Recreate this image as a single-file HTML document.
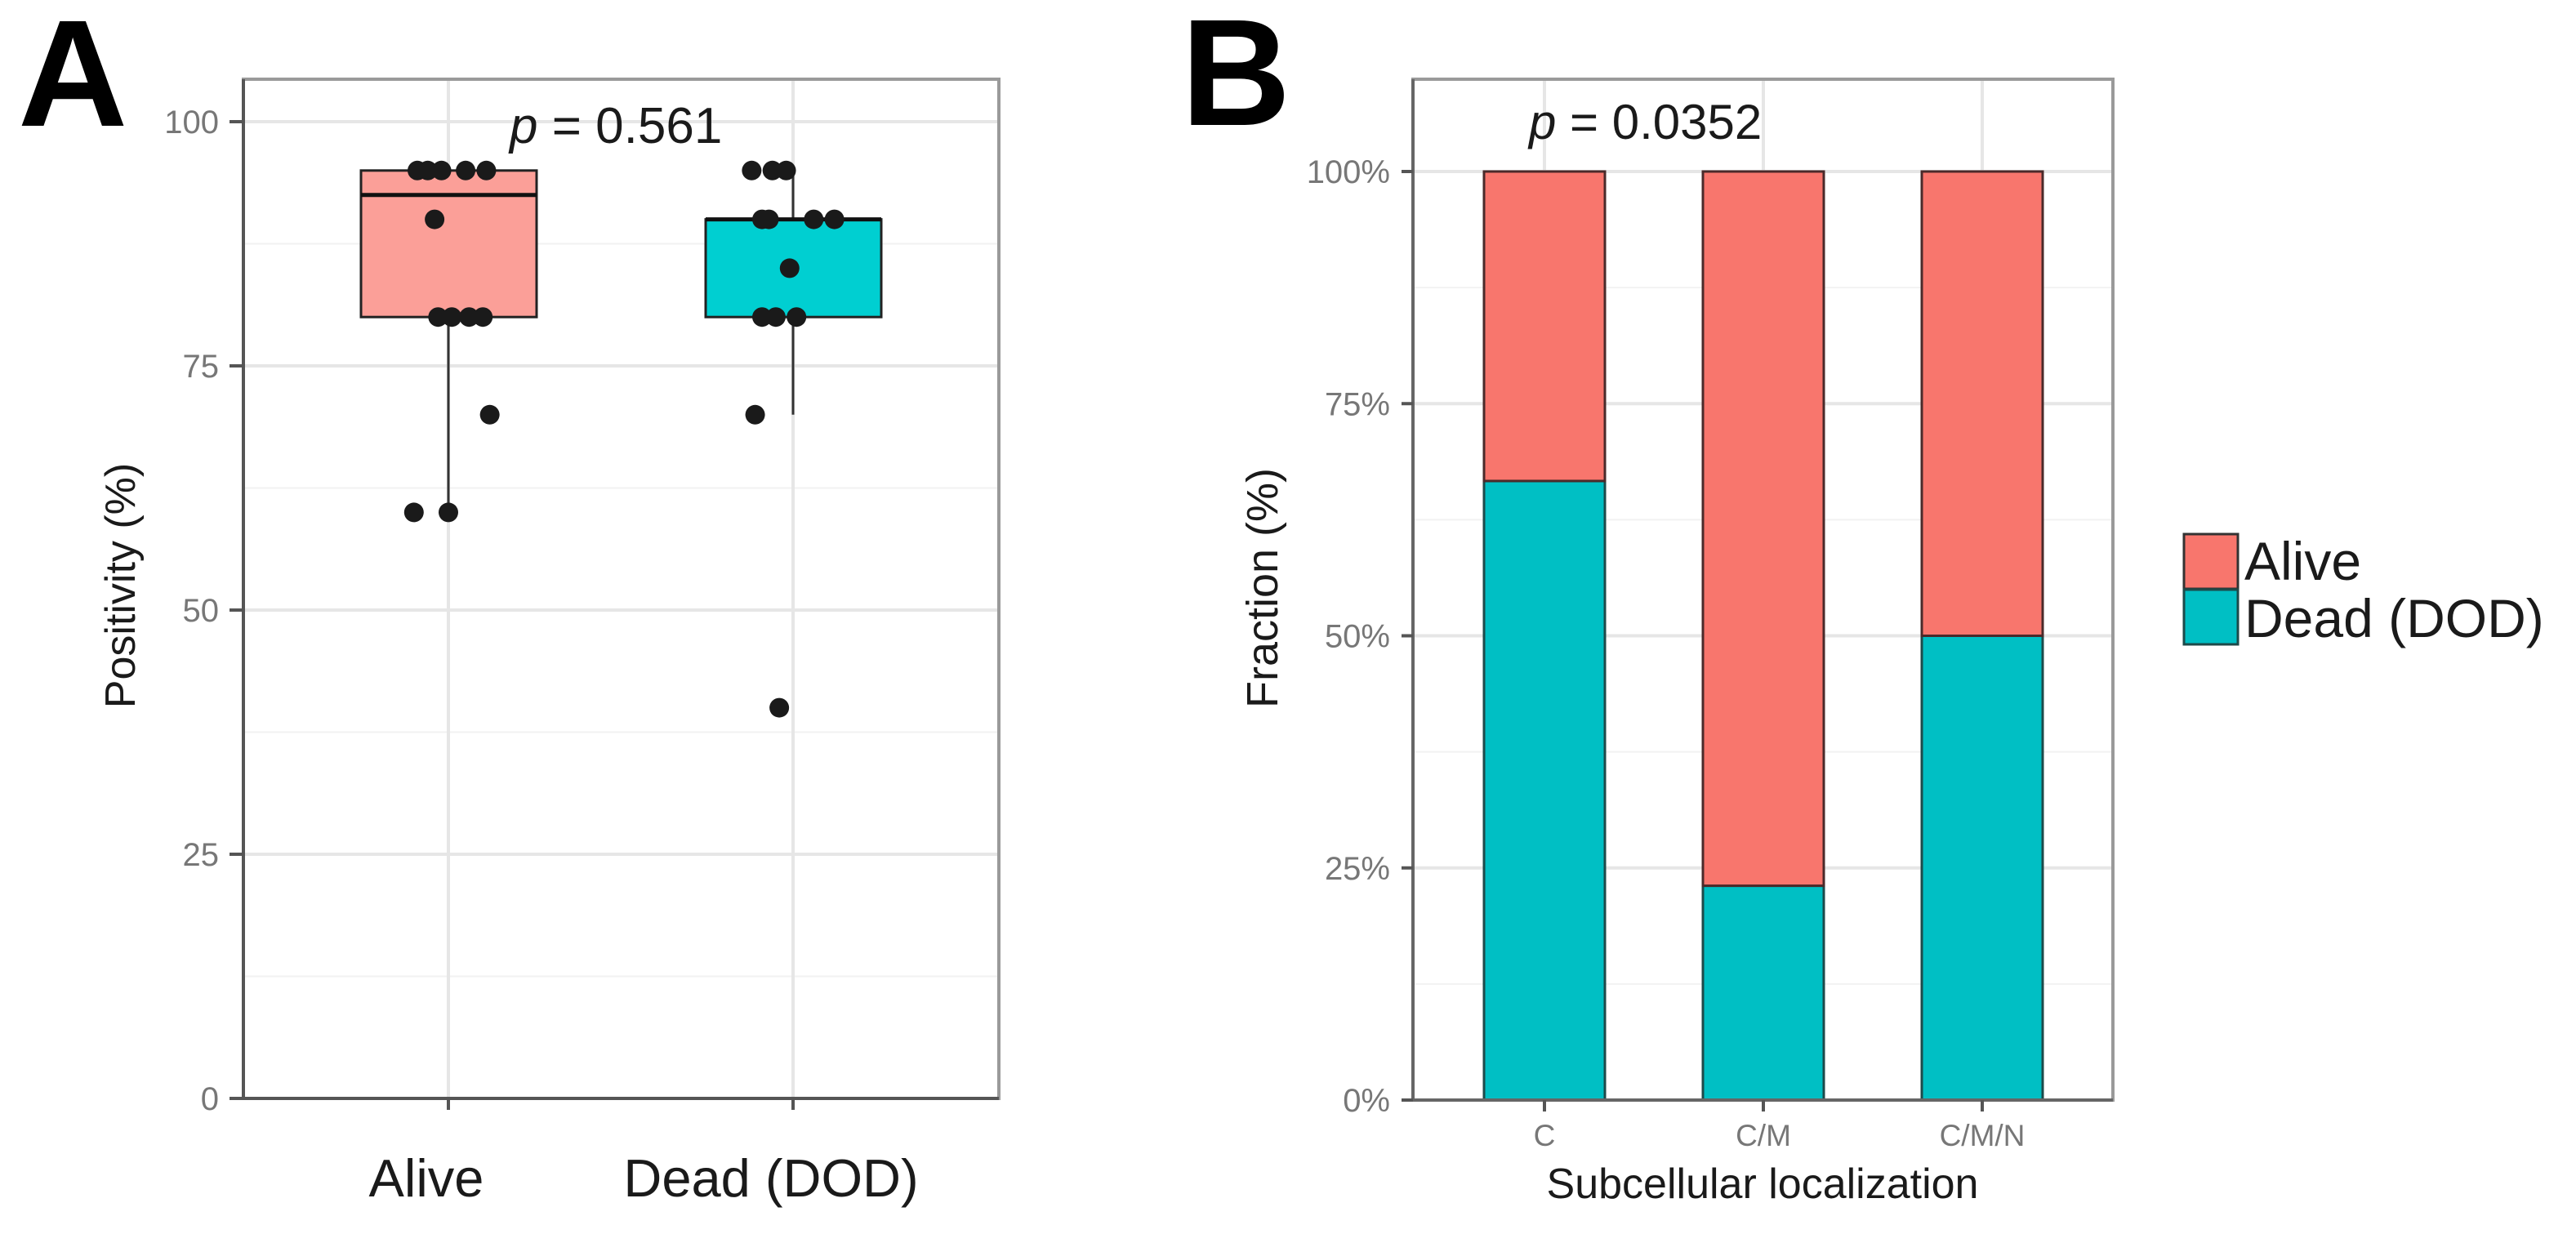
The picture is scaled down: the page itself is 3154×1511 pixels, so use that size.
<!DOCTYPE html>
<html><head><meta charset="utf-8"><style>
html,body{margin:0;padding:0;background:#fff;}
svg{display:block;font-family:"Liberation Sans",Arial,sans-serif;}
</style></head><body>
<svg id="fig" width="3154" height="1511" viewBox="0 0 3154 1511" xmlns="http://www.w3.org/2000/svg">
<rect width="3154" height="1511" fill="#fff"/>
<g id="pa"></g>
<g id="pb"></g>
</svg>
<script>
// ---- Panel A data ----
const aCategories = ["Alive", "Dead (DOD)"];
const aQ1 = [80, 80];
const aMedian = [92.5, 90];
const aQ3 = [95, 90];
const aWhiskerLow = [60, 70];
const aWhiskerHigh = [95, 95];
const aPointGroup = [0,0,0,0,0,0,0,0,0,0,0,0, 1,1,1,1,1,1,1,1,1,1,1,1];
const aPointValue = [95,95,95,95,95,90,80,80,80,80,70,60,60, 95,95,95,90,90,90,90,85,80,80,80,70,40].slice(0);
const aPointsAlive = [95,95,95,95,95,90,80,80,80,80,70,60,60];
const aJitterAlive = [-0.09,-0.06,-0.02,0.05,0.11,-0.04,-0.03,0.01,0.06,0.1,0.12,-0.1,0];
const aPointsDead = [95,95,95,90,90,90,90,85,80,80,80,70,40];
const aJitterDead = [-0.12,-0.06,-0.02,-0.09,-0.07,0.06,0.12,-0.01,-0.09,-0.05,0.01,-0.11,-0.04];
const aYTicks = [0,25,50,75,100];
const aPText = "0.561";
// ---- Panel B data ----
const bCategories = ["C","C/M","C/M/N"];
const bDead = [0.6667, 0.2308, 0.5];
const bAlive = [0.3333, 0.7692, 0.5];
const bYTicks = [0,0.25,0.5,0.75,1];
const bYTickLabels = ["0%","25%","50%","75%","100%"];
const bPText = "0.0352";

const NS="http://www.w3.org/2000/svg";
function mk(parent,tag,attrs,text){const e=document.createElementNS(NS,tag);for(const k in attrs)e.setAttribute(k,attrs[k]);if(text!==undefined)e.textContent=text;parent.appendChild(e);return e;}

// ---------- Panel A ----------
(function(){
const g=document.getElementById('pa');
const L=298,R=1223,T=97,B=1345;
const y=v=>B-(v/100)*(B-149)*1; // 100 at 149
const catStep=422, x0=549;
const x=i=>x0+i*catStep;
// grid minor
for(let v=12.5;v<=100;v+=25){const l=mk(g,'line',{x1:L,x2:R,y1:y(v),y2:y(v),stroke:'#f2f2f2','stroke-width':2});}
aYTicks.forEach(v=>{const l=mk(g,'line',{x1:L,x2:R,y1:y(v),y2:y(v),stroke:'#e6e6e6','stroke-width':4});});
aCategories.forEach((c,i)=>{const l=mk(g,'line',{x1:x(i),x2:x(i),y1:T,y2:B,stroke:'#e6e6e6','stroke-width':4});});
// boxes
const fills=['#fb9f98','#00cfd1'];
aCategories.forEach((c,i)=>{
 const w=mk(g,'line',{x1:x(i),x2:x(i),y1:y(aWhiskerHigh[i]),y2:y(aQ3[i]),stroke:'#333','stroke-width':3});
 
 const w2=mk(g,'line',{x1:x(i),x2:x(i),y1:y(aQ1[i]),y2:y(aWhiskerLow[i]),stroke:'#333','stroke-width':3});
 
 const b=mk(g,'rect',{x:x(i)-107,y:y(aQ3[i]),width:215,height:y(aQ1[i])-y(aQ3[i]),fill:fills[i],stroke:'#222','stroke-width':3});
 
 const m=mk(g,'line',{x1:x(i)-107,x2:x(i)+108,y1:y(aMedian[i]),y2:y(aMedian[i]),stroke:'#111','stroke-width':5});
 
});
[[aPointsAlive,aJitterAlive,0],[aPointsDead,aJitterDead,1]].forEach(([vals,jit,i])=>{
 vals.forEach((v,k)=>{const p=mk(g,'circle',{cx:x(i)+jit[k]*catStep,cy:y(v),r:12,fill:'#1a1a1a'});
 });
});
// border
const br=mk(g,'rect',{x:L,y:T,width:R-L,height:B-T,fill:'none',stroke:'#9a9a9a','stroke-width':4});

const ax=mk(g,'path',{d:`M${L},${T} V${B} H${R}`,fill:'none',stroke:'#555','stroke-width':4});

aYTicks.forEach(v=>{
 const t=mk(g,'line',{x1:281,x2:L,y1:y(v),y2:y(v),stroke:'#555','stroke-width':4});
 
 const tl=mk(g,'text',{x:268,y:y(v)+14,'text-anchor':'end','font-size':40,fill:'#777'},String(v));
 
});
aCategories.forEach((c,i)=>{
 const t=mk(g,'line',{x1:x(i),x2:x(i),y1:B,y2:B+14,stroke:'#555','stroke-width':4});
 
 const tl=mk(g,'text',{x:x(i)-27,y:1465,'text-anchor':'middle','font-size':65,fill:'#1a1a1a'},c);
 
});
const yl=mk(g,'text',{x:0,y:0,transform:'translate(165,717) rotate(-90)','text-anchor':'middle','font-size':52,fill:'#1a1a1a'},'Positivity (%)');

const pt=mk(g,'text',{x:624,y:175,'font-size':62,fill:'#1a1a1a'});

mk(pt,'tspan',{'font-style':'italic'},'p');mk(pt,'tspan',{},' = '+aPText);
const lab=mk(g,'text',{x:22,y:154,'font-size':186,'font-weight':'bold',fill:'#000'},'A');

})();

// ---------- Panel B ----------
(function(){
const g=document.getElementById('pb');
const L=1730,R=2587,T=97,B=1347,Y100=210;
const y=v=>B-v*(B-Y100);
const step=268,x0=1891;
const x=i=>x0+i*step;
const bw=148;
for(let v=0.125;v<1.1;v+=0.25){const l=mk(g,'line',{x1:L,x2:R,y1:y(v),y2:y(v),stroke:'#f2f2f2','stroke-width':2});}
bYTicks.forEach(v=>{const l=mk(g,'line',{x1:L,x2:R,y1:y(v),y2:y(v),stroke:'#e6e6e6','stroke-width':4});});
bCategories.forEach((c,i)=>{const l=mk(g,'line',{x1:x(i),x2:x(i),y1:T,y2:B,stroke:'#e6e6e6','stroke-width':4});});
bCategories.forEach((c,i)=>{
 const d=mk(g,'rect',{x:x(i)-bw/2,y:y(bDead[i]),width:bw,height:y(0)-y(bDead[i]),fill:'#00bfc4',stroke:'#1d4a4a','stroke-width':3});
 
 const a=mk(g,'rect',{x:x(i)-bw/2,y:y(bDead[i]+bAlive[i]),width:bw,height:y(bDead[i])-y(bDead[i]+bAlive[i]),fill:'#f8766d',stroke:'#4a2a2a','stroke-width':3});
 
});
const br=mk(g,'rect',{x:L,y:T,width:R-L,height:B-T,fill:'none',stroke:'#9a9a9a','stroke-width':4});

const ax=mk(g,'path',{d:`M${L},${T} V${B} H${R}`,fill:'none',stroke:'#666','stroke-width':4});

bYTicks.forEach((v,k)=>{
 const t=mk(g,'line',{x1:1716,x2:L,y1:y(v),y2:y(v),stroke:'#555','stroke-width':4});
 
 const tl=mk(g,'text',{x:1702,y:y(v)+14,'text-anchor':'end','font-size':40,fill:'#777'},bYTickLabels[k]);
 
});
bCategories.forEach((c,i)=>{
 const t=mk(g,'line',{x1:x(i),x2:x(i),y1:B,y2:B+14,stroke:'#555','stroke-width':4});
 
 const tl=mk(g,'text',{x:x(i),y:1403,'text-anchor':'middle','font-size':37,fill:'#777'},c);
 
});
const xl=mk(g,'text',{x:2158,y:1467,'text-anchor':'middle','font-size':52,fill:'#1a1a1a'},'Subcellular localization');

const yl=mk(g,'text',{x:0,y:0,transform:'translate(1564,720) rotate(-90)','text-anchor':'middle','font-size':54,fill:'#1a1a1a'},'Fraction (%)');

const pt=mk(g,'text',{x:1872,y:170,'font-size':60,fill:'#1a1a1a'});

mk(pt,'tspan',{'font-style':'italic'},'p');mk(pt,'tspan',{},' = '+bPText);
const lab=mk(g,'text',{x:1446,y:153,'font-size':186,'font-weight':'bold',fill:'#000'},'B');

// legend
const lg=mk(g,'g',{});

const k1=mk(lg,'rect',{x:2674,y:654,width:66,height:67,fill:'#f8766d',stroke:'#333','stroke-width':3});

const k2=mk(lg,'rect',{x:2674,y:722,width:66,height:67,fill:'#00bfc4',stroke:'#1d4a4a','stroke-width':3});

const t1=mk(lg,'text',{x:2748,y:710,'font-size':66,fill:'#1a1a1a'},'Alive');

const t2=mk(lg,'text',{x:2748,y:780,'font-size':66,fill:'#1a1a1a'},'Dead (DOD)');

})();
</script>
</body></html>
